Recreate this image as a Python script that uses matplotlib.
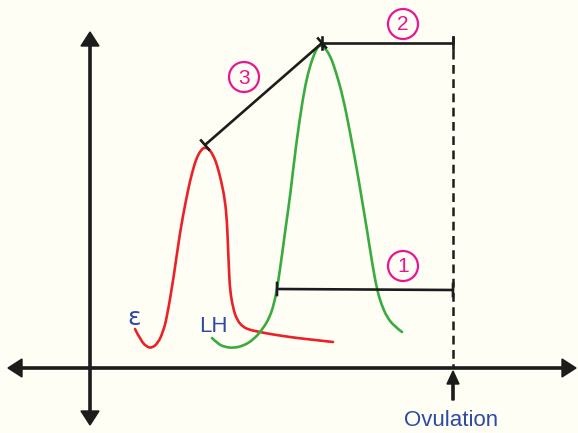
import matplotlib.pyplot as plt
from matplotlib.path import Path
from matplotlib.patches import PathPatch, Circle, FancyArrow

# Hand-drawn sketch; coordinates in picture units (x right, y down)
estrogen_x = [135, 141, 147, 152, 158, 163, 167, 174, 180, 186, 190, 194, 197, 201, 205, 210, 214, 217, 221, 225, 227, 228, 229, 230, 233, 237, 243, 250, 260, 270, 283, 297, 315, 333]
estrogen_y = [329, 341, 347, 348, 343, 332, 317, 275, 232, 200, 181, 166, 157, 150, 147, 150, 157, 165, 180, 200, 222, 247, 270, 290, 308, 320, 327, 330, 332, 334, 336, 338, 340, 342]

lh_x = [212, 218, 225, 233, 243, 253, 262, 270, 275, 278, 282, 286, 290, 296, 303, 308, 313, 317, 320, 324, 330, 336, 343, 350, 357, 362, 367, 372, 377, 382, 387, 394, 402]
lh_y = [338, 344, 347, 348, 346, 340, 330, 317, 300, 283, 255, 225, 197, 145, 97, 73, 57, 48, 45, 47, 55, 72, 97, 132, 170, 200, 230, 262, 290, 306, 317, 326, 332]

ovulation_x = 453
axis_y = 368
axis_x = 90

# brackets: (x0, y0, x1, y1), label, label position
brackets = [
    ((277, 289, ovulation_x, 290), "1", (403, 266)),
    ((322, 43, ovulation_x, 43), "2", (403, 24)),
    ((205, 145, 322, 43), "3", (244, 77)),
]

BG = "#fefef5"
RED = "#ea2228"
GREEN = "#3aab3e"
INK = "#1c1c1c"
BLUE = "#2e4aa3"
PINK = "#ea1593"

fig = plt.figure(figsize=(5.78, 4.33), dpi=100, facecolor=BG)
ax = fig.add_axes([0, 0, 1, 1])
ax.set_facecolor(BG)
ax.set_xlim(0, 578)
ax.set_ylim(433, 0)
ax.axis("off")


def smooth_curve(xs, ys, color):
    # quadratic beziers through midpoints, points act as control points
    pts = list(zip(xs, ys))
    verts = [pts[0]]
    codes = [Path.MOVETO]
    for i in range(1, len(pts) - 1):
        mid = ((pts[i][0] + pts[i + 1][0]) / 2, (pts[i][1] + pts[i + 1][1]) / 2)
        if i == len(pts) - 2:
            mid = pts[-1]
        verts += [pts[i], mid]
        codes += [Path.CURVE3, Path.CURVE3]
    ax.add_patch(PathPatch(Path(verts, codes), fill=False, edgecolor=color,
                           lw=1.9, capstyle="round", joinstyle="round"))


smooth_curve(estrogen_x, estrogen_y, RED)
smooth_curve(lh_x, lh_y, GREEN)

# axes arrows
hw, hl = 9, 14
for tx, ty in [(576, axis_y), (8, axis_y), (axis_x, 32), (axis_x, 425)]:
    ax.add_patch(FancyArrow(axis_x, axis_y, tx - axis_x, ty - axis_y, width=2.2, head_width=hw * 2,
                            head_length=hl, length_includes_head=True, color=INK))

# ovulation dashed line and arrow
ax.plot([ovulation_x, ovulation_x], [36, axis_y], color=INK, lw=1.8, ls=(0, (3.5, 2.2)))
ax.add_patch(FancyArrow(ovulation_x, 400, 0, -29, width=2.2, head_width=12, head_length=13,
                        length_includes_head=True, color=INK))
ax.text(ovulation_x - 2, 421, "Ovulation", color=BLUE, fontsize=16, ha="center", va="center",
        family="Liberation Sans")

# brackets with end ticks
for (x0, y0, x1, y1), num, (cx, cy) in brackets:
    ax.plot([x0, x1], [y0, y1], color=INK, lw=1.9, solid_capstyle="butt")
    dx, dy = x1 - x0, y1 - y0
    n = (dx ** 2 + dy ** 2) ** 0.5
    px, py = -dy / n * 6, dx / n * 6
    for (x, y) in [(x0, y0), (x1, y1)]:
        ax.plot([x - px, x + px], [y - py, y + py], color=INK, lw=1.9)
    ax.add_patch(Circle((cx, cy), 15, fill=False, edgecolor=PINK, lw=1.6))
    ax.text(cx, cy + 1, num, color=PINK, fontsize=15, ha="center", va="center", family="Liberation Sans")

# curve labels
ax.text(134, 318, "ε", color=BLUE, fontsize=18, ha="center", va="center", family="DejaVu Sans")
ax.text(213, 326, "LH", color=BLUE, fontsize=16, ha="center", va="center", family="Liberation Sans")

fig.savefig("out.png", dpi=100, facecolor=BG)
